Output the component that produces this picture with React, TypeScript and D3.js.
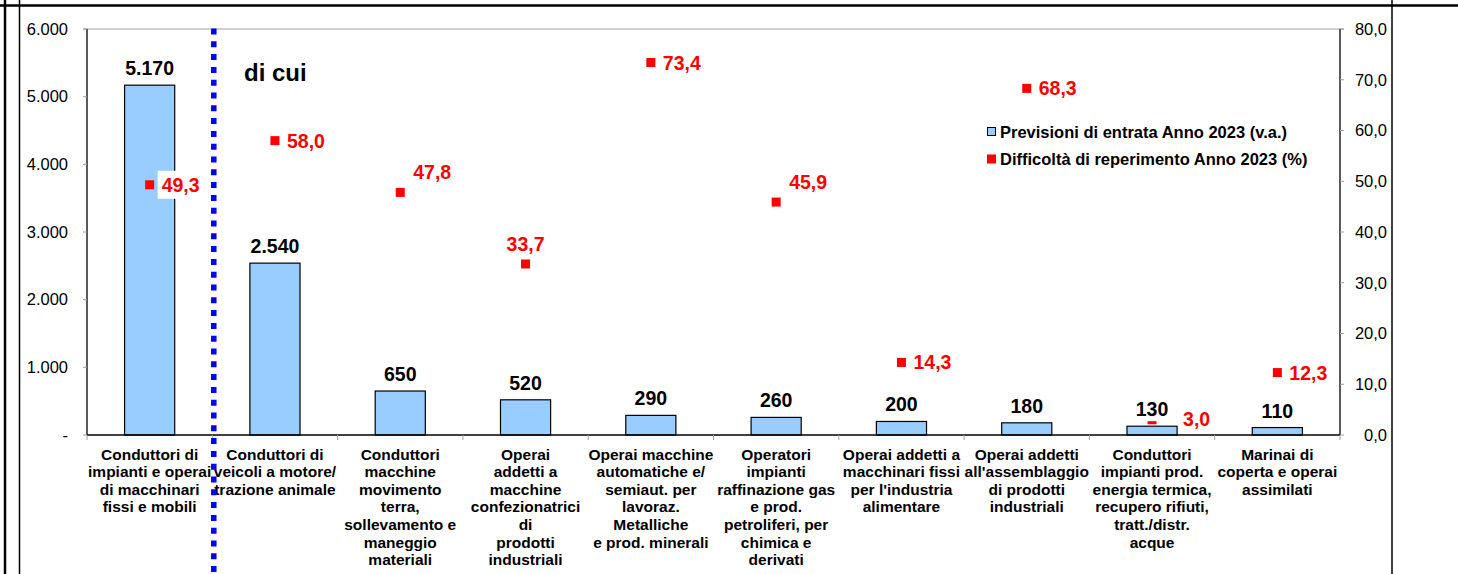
import React from "react";
import * as d3 from "d3";

const categories: string[][] = [
  ["Conduttori di", "impianti e operai", "di macchinari", "fissi e mobili"],
  ["Conduttori di", "veicoli a motore/", "trazione animale"],
  ["Conduttori", "macchine", "movimento", "terra,", "sollevamento e", "maneggio", "materiali"],
  ["Operai", "addetti a", "macchine", "confezionatrici", "di", "prodotti", "industriali"],
  ["Operai macchine", "automatiche e/", "semiaut. per", "lavoraz.", "Metalliche", "e prod. minerali"],
  ["Operatori", "impianti", "raffinazione gas", "e prod.", "petroliferi, per", "chimica e", "derivati"],
  ["Operai addetti a", "macchinari fissi", "per l'industria", "alimentare"],
  ["Operai addetti", "all'assemblaggio", "di prodotti", "industriali"],
  ["Conduttori", "impianti prod.", "energia termica,", "recupero rifiuti,", "tratt./distr.", "acque"],
  ["Marinai di", "coperta e operai", "assimilati"],
];
const entrate: number[] = [5170, 2540, 650, 520, 290, 260, 200, 180, 130, 110];
const difficolta: number[] = [49.3, 58.0, 47.8, 33.7, 73.4, 45.9, 14.3, 68.3, 3.0, 12.3];
const leftTicks: number[] = [0, 1000, 2000, 3000, 4000, 5000, 6000];
const rightTicks: number[] = [0, 10, 20, 30, 40, 50, 60, 70, 80];
const legendLabels: string[] = [
  "Previsioni di entrata Anno 2023 (v.a.)",
  "Difficoltà di reperimento Anno 2023 (%)",
];
const dividerText = "di cui";

// label placement for the percentage labels (layout, not data)
const pctLabelPlacement: string[] = [
  "right", "right", "aboveRight", "above", "right", "aboveRight", "right", "right", "farRight", "right",
];

const W = 1458;
const H = 574;
const FONT = "'Liberation Sans', Arial, Helvetica, sans-serif";
const BAR_FILL = "#99CCFF";
const RED = "#FF0000";

const locale = d3.formatLocale({ decimal: ",", thousands: ".", grouping: [3], currency: ["", ""] });
const fmtInt = locale.format(",.0f");
const fmtPct = locale.format(".1f");

export default function App() {
  React.useEffect(() => {
    document.body.style.margin = "0";
  }, []);

  const left = 87;
  const right = 1340;
  const top = 29;
  const bottom = 435;

  const x = d3
    .scaleBand<number>()
    .domain(d3.range(categories.length))
    .range([left, right])
    .paddingInner(0.6)
    .paddingOuter(0.3);
  const step = x.step();
  const bw = x.bandwidth();
  const cx = (i: number) => (x(i) as number) + bw / 2;
  const boundary = (i: number) => (x(i) as number) - (step - bw) / 2;

  const yL = d3.scaleLinear().domain([0, 6000]).range([bottom, top]);
  const yR = d3.scaleLinear().domain([0, 80]).range([bottom, top]);

  const labelFs = 19.5;
  const axisFs = 16.5;
  const catFs = 15.5;
  const legendFs = 16.5;
  const ms = 9; // marker size

  const textW = (s: string, fs: number) => {
    let w = 0;
    for (const ch of s) {
      if (ch === "," || ch === ".") w += 0.278;
      else w += 0.556;
    }
    return w * fs;
  };

  const divX = boundary(1) + 1.5;

  return (
    <svg
      width={W}
      height={H}
      viewBox={`0 0 ${W} ${H}`}
      style={{ position: "absolute", left: 0, top: 0, background: "#fff" }}
      fontFamily={FONT}
    >
      <rect x={0} y={0} width={W} height={H} fill="#fff" />

      {/* top border of plot area */}
      <line x1={left - 4} x2={right + 4} y1={top} y2={top} stroke="#a0a0a0" strokeWidth={1} />

      {/* bars */}
      {entrate.map((v, i) => (
        <rect
          key={"b" + i}
          x={x(i)}
          y={yL(v)}
          width={bw}
          height={yL(0) - yL(v)}
          fill={BAR_FILL}
          stroke="#000"
          strokeWidth={1.2}
        />
      ))}

      {/* left axis */}
      <line x1={left} x2={left} y1={top} y2={bottom} stroke="#000" strokeWidth={1.3} />
      {leftTicks.map((t) => (
        <g key={"lt" + t}>
          <line x1={left - 4} x2={left} y1={yL(t)} y2={yL(t)} stroke="#a0a0a0" strokeWidth={1} />
          <text
            x={68}
            y={yL(t) + axisFs * 0.35}
            fontSize={axisFs}
            textAnchor="end"
            fill="#000"
          >
            {t === 0 ? "-" : fmtInt(t)}
          </text>
        </g>
      ))}

      {/* right axis */}
      <line x1={right} x2={right} y1={top} y2={bottom} stroke="#000" strokeWidth={1.3} />
      {rightTicks.map((t) => (
        <g key={"rt" + t}>
          <line x1={right} x2={right + 4} y1={yR(t)} y2={yR(t)} stroke="#a0a0a0" strokeWidth={1} />
          <text
            x={1387}
            y={yR(t) + axisFs * 0.35}
            fontSize={axisFs}
            textAnchor="end"
            fill="#000"
          >
            {fmtPct(t)}
          </text>
        </g>
      ))}

      {/* category axis */}
      <line x1={left} x2={right} y1={bottom} y2={bottom} stroke="#000" strokeWidth={1.3} />
      {d3.range(categories.length + 1).map((i) => {
        const bx = i < categories.length ? boundary(i) : right;
        return <line key={"ct" + i} x1={bx} x2={bx} y1={bottom} y2={bottom + 5} stroke="#a0a0a0" strokeWidth={1} />;
      })}
      {categories.map((lines, i) => (
        <text key={"cl" + i} x={cx(i)} y={459.5} fontSize={catFs} fontWeight="bold" textAnchor="middle" fill="#000">
          {lines.map((ln, k) => (
            <tspan key={k} x={cx(i)} dy={k === 0 ? 0 : 17.6}>
              {ln}
            </tspan>
          ))}
        </text>
      ))}

      {/* markers */}
      {difficolta.map((v, i) => (
        <rect key={"m" + i} x={cx(i) - ms / 2} y={yR(v) - ms / 2} width={ms} height={ms} fill={RED} />
      ))}

      {/* bar value labels */}
      {entrate.map((v, i) => {
        const s = fmtInt(v);
        const w = textW(s, labelFs);
        const base = yL(v) - 10;
        return (
          <g key={"bl" + i}>
            <rect x={cx(i) - w / 2 - 3} y={base - 17} width={w + 6} height={22} fill="#fff" />
            <text x={cx(i)} y={base} fontSize={labelFs} fontWeight="bold" textAnchor="middle" fill="#000">
              {s}
            </text>
          </g>
        );
      })}

      {/* percentage labels */}
      {difficolta.map((v, i) => {
        const s = fmtPct(v);
        const w = textW(s, labelFs);
        const mx = cx(i);
        const my = yR(v);
        const p = pctLabelPlacement[i];
        let tx = mx + 12;
        let cy = my;
        if (p === "aboveRight") {
          tx = mx + 13;
          cy = my - 20;
        } else if (p === "above") {
          tx = mx - w / 2;
          cy = my - 20;
        } else if (p === "farRight") {
          tx = mx + 31;
          cy = my - 1;
        }
        return (
          <g key={"pl" + i}>
            <rect x={tx - 4} y={cy - 14} width={w + 8} height={28} fill="#fff" />
            <text x={tx} y={cy + labelFs * 0.36} fontSize={labelFs} fontWeight="bold" fill={RED}>
              {s}
            </text>
          </g>
        );
      })}

      {/* divider */}
      <line
        x1={divX}
        x2={divX}
        y1={top - 0.5}
        y2={H}
        stroke="#0000FF"
        strokeWidth={5.5}
        strokeDasharray="6 6.8"
      />
      <text x={244} y={81} fontSize={24} fontWeight="bold" fill="#000">
        {dividerText}
      </text>

      {/* legend */}
      <rect x={987.5} y={127.5} width={8} height={8} fill={BAR_FILL} stroke="#000" strokeWidth={1} />
      <text x={1000} y={137.5} fontSize={legendFs} fontWeight="bold" fill="#000">
        {legendLabels[0]}
      </text>
      <rect x={987} y={154.5} width={9} height={9} fill={RED} />
      <text x={1000} y={164.5} fontSize={legendFs} fontWeight="bold" fill="#000">
        {legendLabels[1]}
      </text>

      {/* outer frame lines */}
      <line x1={0} x2={W} y1={5.5} y2={5.5} stroke="#000" strokeWidth={2.5} />
      <line x1={5} x2={5} y1={0} y2={H} stroke="#000" strokeWidth={2.5} />
      <line x1={19.5} x2={19.5} y1={0} y2={H} stroke="#000" strokeWidth={1.5} />
      <line x1={1392} x2={1392} y1={0} y2={H} stroke="#000" strokeWidth={1.5} />
    </svg>
  );
}
